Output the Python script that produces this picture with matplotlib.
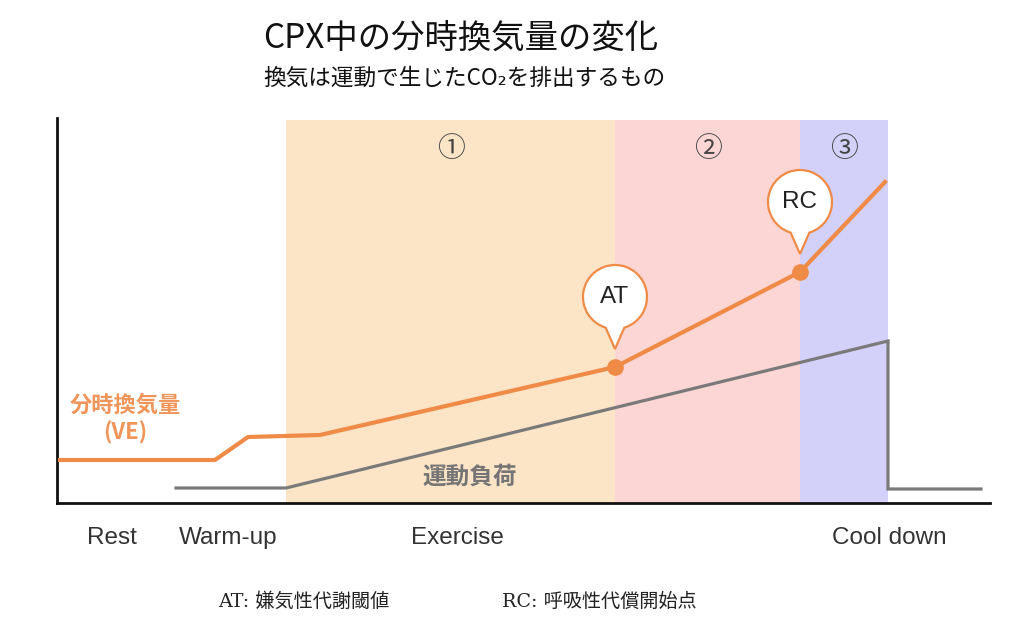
import matplotlib
matplotlib.use("Agg")
import matplotlib.pyplot as plt
import numpy as np
from matplotlib.path import Path
from matplotlib.patches import PathPatch

# ---- data (arbitrary time / value units) ----
ve_t = [0.3, 15.8, 19.1, 26.3, 55.8, 74.3, 82.8]
ve_v = [4.3, 4.3, 6.6, 6.8, 13.6, 23.1, 32.1]
load_t = [11.9, 22.9, 83.1, 83.1, 92.4]
load_v = [1.5, 1.5, 16.2, 1.4, 1.4]
phase_edges = [22.9, 55.8, 74.3, 83.1]
phase_labels = ["①", "②", "③"]
phase_colors = ["#FCE4C7", "#FBD6D4", "#D3D1F9"]
point_idx = {"AT": 4, "RC": 5}
stage_pos = [5.5, 17.1, 40.0, 83.2]
stage_labels = ["Rest", "Warm-up", "Exercise", "Cool down"]

ORANGE = "#EF8B47"
GRAY = "#7A7A7A"
CJK = ["Noto Sans CJK JP", "DejaVu Sans"]

fig = plt.figure(figsize=(10.12, 6.22), dpi=100)
W, H = 1012, 622
ax = fig.add_axes([57 / W, (H - 503) / H, (990 - 57) / W, (503 - 118) / H])
ax.set_xlim(0, 93.3)
ax.set_ylim(0, 38.5)

for (a, b), c, lab in zip(zip(phase_edges[:-1], phase_edges[1:]), phase_colors, phase_labels):
    ax.axvspan(a, b, ymin=0, ymax=38.3 / 38.5, color=c, lw=0, zorder=0)
    ax.text((a + b) / 2, 35.4, lab, ha="center", va="center", fontsize=20,
            color="#444444", family=CJK, zorder=3)

ax.plot(load_t, load_v, color=GRAY, lw=2.3, solid_joinstyle="miter", zorder=2)
ax.plot(ve_t, ve_v, color=ORANGE, lw=3.0, solid_joinstyle="round", zorder=3)

# balloons for AT / RC
r = 3.2
for name, i in point_idx.items():
    x0, y0 = ve_t[i], ve_v[i]
    ax.plot([x0], [y0], "o", color=ORANGE, ms=11, zorder=4)
    cx, cy = x0, y0 + 7.0
    tip = (x0, y0 + 1.8)
    arc = Path.arc(-90 + 17, 270 - 17)
    verts = arc.vertices * r + np.array([cx, cy])
    verts = np.vstack([verts, tip, verts[0]])
    codes = list(arc.codes) + [Path.LINETO, Path.CLOSEPOLY]
    ax.add_patch(PathPatch(Path(verts, codes), facecolor="white", edgecolor=ORANGE,
                           lw=1.6, zorder=5))
    ax.text(cx, cy, name, ha="center", va="center", fontsize=17.5,
            family=["Liberation Sans"], color="#222222", zorder=6)

ax.text(6.8, 8.4, "分時換気量\n(VE)", ha="center", va="center", fontsize=16,
        fontweight="bold", color="#F0955A", family=CJK, linespacing=1.25)
ax.text(41.3, 2.6, "運動負荷", ha="center", va="center", fontsize=17,
        fontweight="bold", color="#757575", family=CJK, zorder=3)

for s in ["top", "right"]:
    ax.spines[s].set_visible(False)
for s in ["left", "bottom"]:
    ax.spines[s].set_linewidth(2.0)
    ax.spines[s].set_color("#111111")
ax.set_yticks([])
ax.set_xticks(stage_pos)
ax.set_xticklabels(stage_labels, fontsize=17.5, family=["Liberation Sans"], color="#333333")
ax.tick_params(axis="x", length=0, pad=17)

fig.text(263 / W, 1 - 38 / H, "CPX中の分時換気量の変化", ha="left", va="center",
         fontsize=24, family=CJK, color="#111111")
fig.text(263 / W, 1 - 78 / H, "換気は運動で生じたCO₂を排出するもの", ha="left", va="center",
         fontsize=16.3, family=CJK, color="#111111")
fig.text(218 / W, 1 - 602 / H, "AT: 嫌気性代謝閾値", ha="left", va="center",
         fontsize=13.8, family=["DejaVu Serif", "Noto Sans CJK JP"], color="#222222")
fig.text(502 / W, 1 - 602 / H, "RC: 呼吸性代償開始点", ha="left", va="center",
         fontsize=13.8, family=["DejaVu Serif", "Noto Sans CJK JP"], color="#222222")

fig.savefig("out.png", dpi=100)
